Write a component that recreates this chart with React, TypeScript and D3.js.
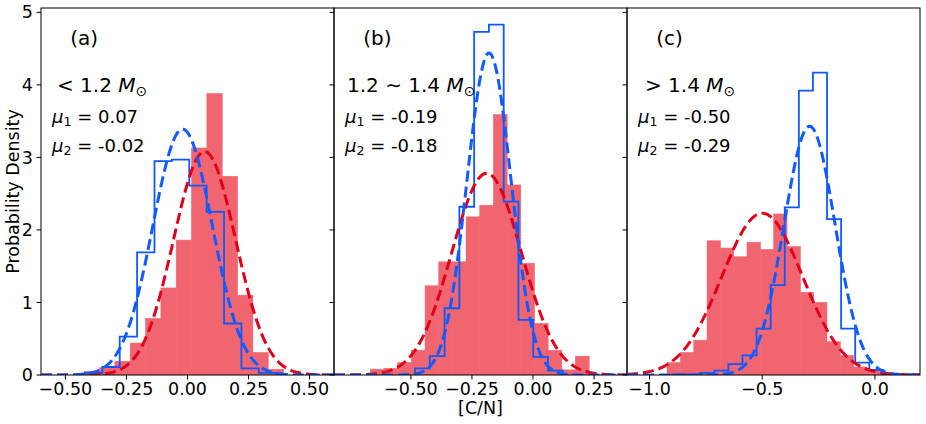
import { useCallback, useEffect, useRef } from 'react';

import { curveStepAfter, format, line, range, scaleLinear, select } from 'd3';

// panel annotations
const panelTags = ['(a)', '(b)', '(c)'];
const massPrefix = ['< 1.2 ', '1.2 \u223C 1.4 ', '> 1.4 '];
const mu1Labels = ['0.07', '-0.19', '-0.50'];
const mu2Labels = ['-0.02', '-0.18', '-0.29'];

// axes
const xDomains: [number, number][] = [
  [-0.6, 0.6],
  [-0.815, 0.385],
  [-1.1, 0.2],
];
const xTickValues = [
  [-0.5, -0.25, 0, 0.25, 0.5],
  [-0.5, -0.25, 0, 0.25],
  [-1.0, -0.5, 0.0],
];
const xTickFormats = ['.2f', '.2f', '.1f'];
const yTickValues = [0, 1, 2, 3, 4, 5];

// red filled histograms (bin start, bin width, densities)
const redStart = [-0.423, -0.666, -0.922];
const redWidth = [0.0628, 0.056, 0.0591];
const redDensityA = [0.05, 0.1, 0.19, 0.44, 0.78, 1.2, 1.86, 3.13, 3.88, 2.74, 1.1, 0.31, 0.08];
const redDensityB = [0.08, 0.09, 0.17, 0.34, 1.23, 1.56, 1.56, 2.18, 2.34, 3.59, 2.62, 1.54, 0.71, 0.34, 0.07, 0.26];
const redDensityC = [0.17, 0.31, 0.48, 1.85, 1.75, 1.63, 1.83, 1.73, 2.22, 1.77, 1.14, 1.0, 0.46, 0.27, 0.11, 0.07, 0.03, 0.02, 0.02];

// blue step histograms
const blueStart = [-0.42, -0.483, -0.9];
const blueWidth = [0.0712, 0.0605, 0.0625];
const blueDensityA = [0.03, 0.11, 0.53, 1.69, 2.95, 2.97, 2.61, 2.25, 0.71, 0.09, 0.03];
const blueDensityB = [0.09, 0.26, 0.92, 2.32, 4.73, 4.83, 2.39, 0.76, 0.25, 0.06];
const blueDensityC = [0.01, 0.01, 0.03, 0.06, 0.15, 0.27, 0.64, 1.24, 2.31, 3.92, 4.17, 2.15, 0.64, 0.17, 0.07];

// gaussian fits (mean, sigma, peak height)
const redFitMu = [0.07, -0.19, -0.5];
const redFitSigma = [0.127, 0.143, 0.18];
const redFitPeak = [3.08, 2.78, 2.23];
const blueFitMu = [-0.02, -0.18, -0.29];
const blueFitSigma = [0.122, 0.09, 0.113];
const blueFitPeak = [3.39, 4.44, 3.43];

const redDensities = [redDensityA, redDensityB, redDensityC];
const blueDensities = [blueDensityA, blueDensityB, blueDensityC];

const FONT = 'DejaVu Sans, sans-serif';
const RED_FILL = '#f0656f';
const RED_LINE = '#e3001b';
const BLUE_STEP = '#0d58ff';
const BLUE_LINE = '#0f5bff';

export default function App() {
  const containerRef = useRef<HTMLDivElement>(null);

  const initChart = useCallback(() => {
    const container = containerRef.current;
    if (!container) return;

    const totalW = 926,
      totalH = 424;
    const margin = { top: 8, bottom: 49, left: 41, right: 6 };
    const panelW = (totalW - margin.left - margin.right) / 3;
    const plotH = totalH - margin.top - margin.bottom;

    const div = select(container);
    div.select('svg').remove();

    const svg = div
      .append('svg')
      .attr('width', totalW)
      .attr('height', totalH)
      .style('display', 'block')
      .style('background', '#fff');

    const y = scaleLinear().domain([0, 5.06]).range([plotH, 0]);

    xDomains.forEach((domain, i) => {
      const x = scaleLinear().domain(domain).range([0, panelW]);
      const g = svg
        .append('g')
        .attr('class', `panel-${i}`)
        .attr('transform', `translate(${margin.left + i * panelW},${margin.top})`);

      const clipId = `clip-${i}`;
      svg
        .append('clipPath')
        .attr('id', clipId)
        .append('rect')
        .attr('width', panelW)
        .attr('height', plotH);
      const plot = g.append('g').attr('clip-path', `url(#${clipId})`);

      // red histogram bars
      const reds = redDensities[i];
      plot
        .append('g')
        .selectAll('rect')
        .data(reds)
        .join('rect')
        .attr('x', (_, k) => x(redStart[i] + k * redWidth[i]))
        .attr('y', (d) => y(d))
        .attr('width', (_, k) => x(redStart[i] + (k + 1) * redWidth[i]) - x(redStart[i] + k * redWidth[i]))
        .attr('height', (d) => y(0) - y(d))
        .attr('fill', RED_FILL)
        .attr('stroke', RED_FILL)
        .attr('stroke-width', 0.6);

      // blue step histogram
      const blues = blueDensities[i];
      const stepPts: [number, number][] = [[blueStart[i], 0]];
      blues.forEach((d, k) => stepPts.push([blueStart[i] + k * blueWidth[i], d]));
      const endEdge = blueStart[i] + blues.length * blueWidth[i];
      stepPts.push([endEdge, blues[blues.length - 1]]);
      stepPts.push([endEdge, 0]);
      plot
        .append('path')
        .datum(stepPts)
        .attr('fill', 'none')
        .attr('stroke', BLUE_STEP)
        .attr('stroke-width', 1.8)
        .attr(
          'd',
          line<[number, number]>()
            .x((d) => x(d[0]))
            .y((d) => y(d[1]))
            .curve(curveStepAfter)
        );

      // gaussian fits
      const xs = range(0, 301).map((k) => domain[0] + ((domain[1] - domain[0]) * k) / 300);
      const fit = (mu: number, s: number, peak: number) =>
        xs.map((v) => [v, peak * Math.exp(-((v - mu) ** 2) / (2 * s * s))] as [number, number]);
      const gauss = line<[number, number]>()
        .x((d) => x(d[0]))
        .y((d) => y(d[1]));
      plot
        .append('path')
        .datum(fit(redFitMu[i], redFitSigma[i], redFitPeak[i]))
        .attr('fill', 'none')
        .attr('stroke', RED_LINE)
        .attr('stroke-width', 3)
        .attr('stroke-dasharray', '11,5')
        .attr('d', gauss);
      plot
        .append('path')
        .datum(fit(blueFitMu[i], blueFitSigma[i], blueFitPeak[i]))
        .attr('fill', 'none')
        .attr('stroke', BLUE_LINE)
        .attr('stroke-width', 3)
        .attr('stroke-dasharray', '11,5')
        .attr('d', gauss);

      // frame
      g.append('rect')
        .attr('width', panelW)
        .attr('height', plotH)
        .attr('fill', 'none')
        .attr('stroke', '#000')
        .attr('stroke-width', 1);

      // x ticks
      const fmt = format(xTickFormats[i]);
      const xt = g
        .append('g')
        .attr('transform', `translate(0,${plotH})`)
        .selectAll('g')
        .data(xTickValues[i])
        .join('g')
        .attr('transform', (d) => `translate(${x(d)},0)`);
      xt.append('line').attr('y2', 4.5).attr('stroke', '#000');
      xt.append('text')
        .attr('y', 20)
        .attr('text-anchor', 'middle')
        .attr('font-family', FONT)
        .attr('font-size', 17.5)
        .text((d) => fmt(d));

      // y ticks
      const yt = g
        .append('g')
        .selectAll('g')
        .data(yTickValues)
        .join('g')
        .attr('transform', (d) => `translate(0,${y(d)})`);
      yt.append('line').attr('x2', -4.5).attr('stroke', '#000');
      if (i === 0) {
        yt.append('text')
          .attr('x', -8)
          .attr('dy', '0.35em')
          .attr('text-anchor', 'end')
          .attr('font-family', FONT)
          .attr('font-size', 17.5)
          .text((d) => String(d));
      }

      // annotations
      const ann = g.append('g').attr('font-family', FONT).attr('fill', '#000');
      ann.append('text')
        .attr('x', panelW * 0.1)
        .attr('y', 45 - margin.top)
        .attr('font-size', 20)
        .text(panelTags[i]);

      const massX = [16, 13, 18][i];
      const mass = ann.append('text').attr('x', massX).attr('y', 92 - margin.top).attr('font-size', 20);
      mass.append('tspan').text(massPrefix[i]);
      mass.append('tspan').attr('font-style', 'italic').text('M');
      mass.append('tspan').attr('font-size', 14).attr('dy', 4).text('\u2299');

      [mu1Labels[i], mu2Labels[i]].forEach((v, k) => {
        const t = ann
          .append('text')
          .attr('x', 11)
          .attr('y', [123, 152][k] - margin.top)
          .attr('font-size', 18);
        t.append('tspan').attr('font-style', 'italic').text('\u03BC');
        t.append('tspan').attr('font-size', 12.6).attr('dy', 3).text(String(k + 1));
        t.append('tspan').attr('dy', -3).text(` = ${v}`);
      });
    });

    // axis labels
    svg
      .append('text')
      .attr('x', margin.left + (panelW * 3) / 2)
      .attr('y', 414)
      .attr('text-anchor', 'middle')
      .attr('font-family', FONT)
      .attr('font-size', 17.5)
      .text('[C/N]');
    svg
      .append('text')
      .attr('transform', `translate(19,${margin.top + plotH / 2}) rotate(-90)`)
      .attr('text-anchor', 'middle')
      .attr('font-family', FONT)
      .attr('font-size', 17.5)
      .text('Probability Density');
  }, []);

  const destroyChart = useCallback(() => {
    const container = containerRef.current;
    if (!container) return;
    select(container).select('svg').remove();
  }, []);

  useEffect(() => {
    initChart();
    return destroyChart;
  }, [destroyChart, initChart]);

  return (
    <div
      ref={containerRef}
      style={{ position: 'absolute', left: 0, top: 0, background: '#fff' }}
    />
  );
}
